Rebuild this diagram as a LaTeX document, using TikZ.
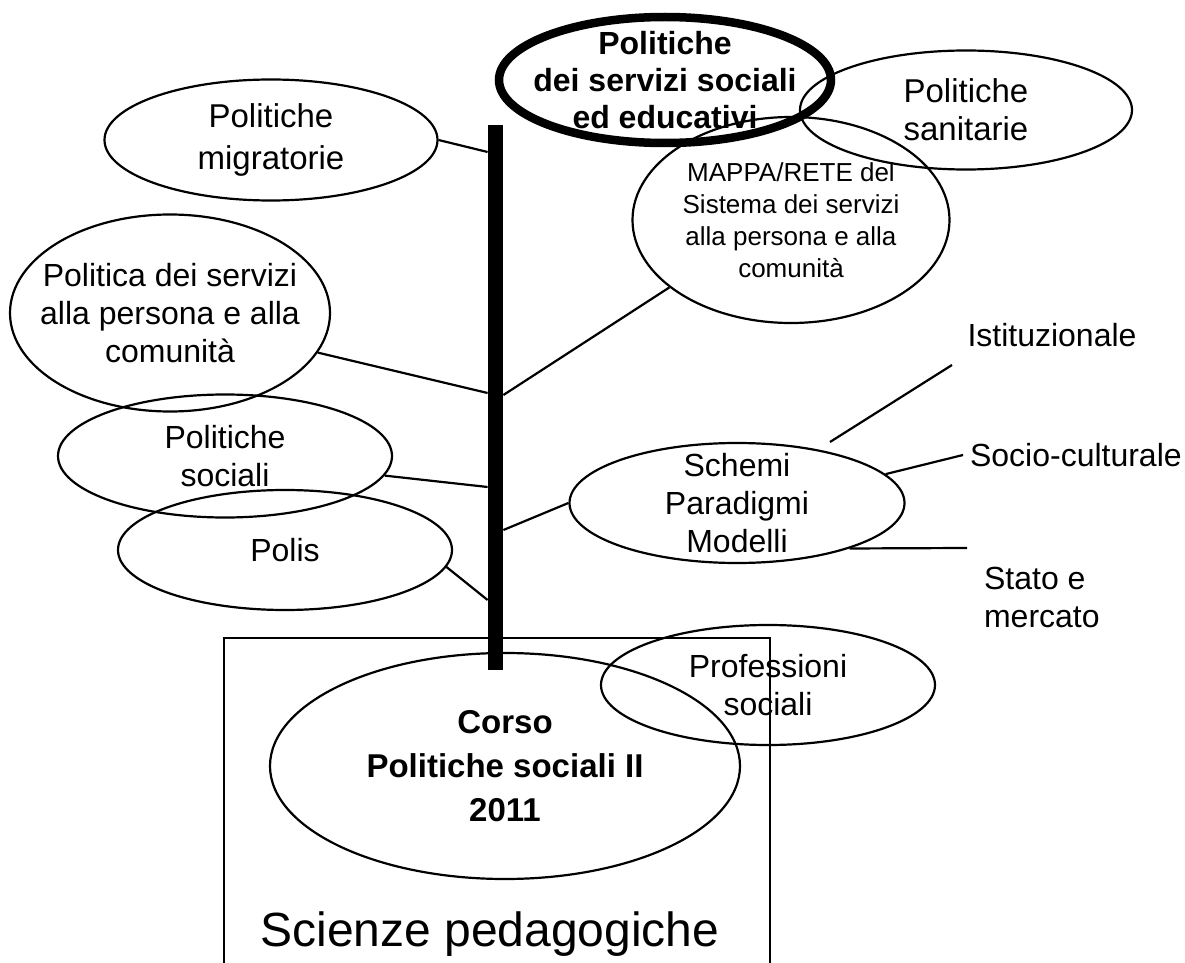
\documentclass[tikz,border=0pt]{standalone}
\usepackage{fontspec}
\setmainfont{Liberation Sans}
\usetikzlibrary{shapes.geometric}

\tikzset{
  bubble/.style={ellipse, draw, line width=1.1pt, inner sep=0pt,
    minimum width=167pt, minimum height=60pt},
  branch/.style={line width=1.1pt},
}

\begin{document}
\begin{tikzpicture}[x=0.5pt, y=-0.5pt, font=\fontsize{16}{19}\selectfont]
  \useasboundingbox (0,0) rectangle (1185,963);
  % frame at the bottom
  \draw[line width=1.1pt] (224,963) -- (224,638) -- (770,638) -- (770,963);
  \node at (490,946) [anchor=base, font=\fontsize{24}{28}\selectfont] (scienze) {Scienze pedagogiche};
  \node[bubble, minimum width=235pt, minimum height=113pt,
    label={[align=center, font=\bfseries\fontsize{16.5}{22}\selectfont]center:Corso\\Politiche sociali II\\2011}] (corso) at (505,766) {};
  \node[bubble, label={[align=center]center:Professioni\\sociali}] (prof) at (768,685) {};
  % trunk
  \node[fill, inner sep=0pt, minimum width=7.5pt, minimum height=272.5pt] (trunk) at (495.5,397.5) {};
  % left side
  \node[bubble, minimum width=166.5pt, minimum height=60.5pt,
    label={[align=center, font=\fontsize{16.5}{21}\selectfont]center:Politiche\\migratorie}] (migr) at (271,140) {};
  \node[bubble, minimum width=160pt, minimum height=98.5pt,
    label={[align=center]center:Politica dei servizi\\alla persona e alla\\comunità}] (persona) at (170,313) {};
  \node[bubble, minimum height=61.5pt, label={[align=center]center:Politiche\\sociali}] (soc) at (225,456) {};
  \node[bubble, label={[align=center]center:Polis}] (polis) at (285,550) {};
  % right side
  \node[bubble, minimum width=158.5pt, minimum height=103pt,
    label={[align=center, font=\fontsize{13}{16}\selectfont]center:MAPPA/RETE del\\Sistema dei servizi\\alla persona e alla\\comunità}] (mappa) at (791,220) {};
  \node[bubble, line width=4.25pt, minimum width=166pt, minimum height=63pt,
    label={[align=center, font=\bfseries\fontsize{16}{18.5}\selectfont]center:Politiche\\dei servizi sociali\\ed educativi}] (main) at (665,80) {};
  \node[bubble, minimum width=166pt, minimum height=59.5pt,
    label={[align=center, font=\fontsize{16.5}{19}\selectfont]center:Politiche\\sanitarie}] (sanit) at (966,110) {};
  \node[bubble, minimum width=167.5pt, label={[align=center]center:Schemi\\Paradigmi\\Modelli}] (schemi) at (737,503) {};
  % branches to the trunk
  \draw[branch] (migr.east) -- (trunk.west |- 0,152);
  \draw[branch] (persona.-15) -- (trunk.west |- 0,393);
  \draw[branch] (mappa.209) -- (trunk.east |- 0,395);
  \draw[branch] (soc.-7) -- (trunk.west |- 0,487);
  \draw[branch] (schemi.west) -- (trunk.east |- 0,530);
  \draw[branch] (polis.-6) -- (trunk.west |- 0,600);
  % schemi
  \node (ist) at (1052,335) {Istituzionale};
  \node[anchor=west] (socio) at (963,455) {Socio-culturale};
  \node[anchor=west, align=left] (stato) at (977,597) {Stato e\\mercato};
  \coordinate (ist-a) at (830,442);
  \coordinate (ist-b) at (952,365);
  \coordinate (stato-end) at (967,548);
  \draw[branch] (ist-a) -- (ist-b);
  \draw[branch] (schemi.11) -- (socio.west);
  \draw[branch] (schemi.-22) -- (stato-end);
\end{tikzpicture}
\end{document}
